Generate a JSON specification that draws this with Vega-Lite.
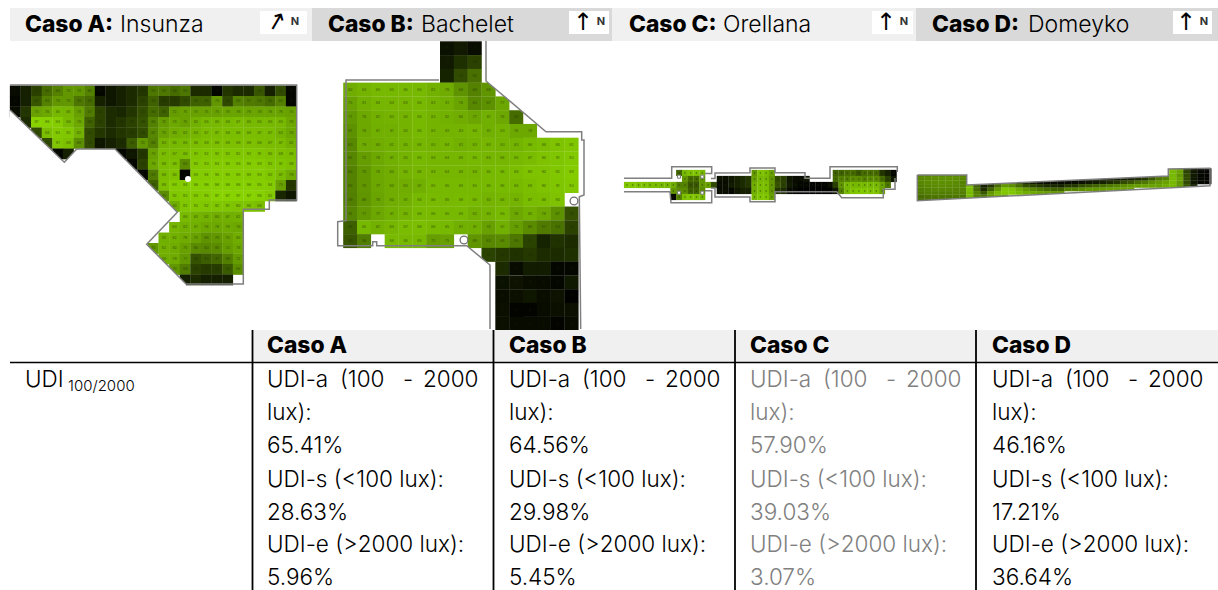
{"$schema":"https://vega.github.io/schema/vega-lite/v6.json","width":1218,"height":590,"padding":0,"autosize":{"type":"none"},"background":"white","config":{"view":{"stroke":null}},
"datasets":{
"A":[{"c":0,"r":0,"u":5},{"c":1,"r":0,"u":15},{"c":2,"r":0,"u":30},{"c":3,"r":0,"u":50},{"c":4,"r":0,"u":60},{"c":5,"r":0,"u":70},{"c":6,"r":0,"u":70},{"c":7,"r":0,"u":60},{"c":8,"r":0,"u":3},{"c":9,"r":0,"u":10},{"c":10,"r":0,"u":15},{"c":11,"r":0,"u":20},{"c":12,"r":0,"u":25},{"c":13,"r":0,"u":55},{"c":14,"r":0,"u":55},{"c":15,"r":0,"u":50},{"c":16,"r":0,"u":55},{"c":17,"r":0,"u":20},{"c":18,"r":0,"u":20},{"c":19,"r":0,"u":3},{"c":20,"r":0,"u":25},{"c":21,"r":0,"u":20},{"c":22,"r":0,"u":20},{"c":23,"r":0,"u":40},{"c":24,"r":0,"u":15},{"c":25,"r":0,"u":35},{"c":26,"r":0,"u":3},
{"c":0,"r":1,"u":3},{"c":1,"r":1,"u":15},{"c":2,"r":1,"u":40},{"c":3,"r":1,"u":60},{"c":4,"r":1,"u":70},{"c":5,"r":1,"u":70},{"c":6,"r":1,"u":55},{"c":7,"r":1,"u":50},{"c":8,"r":1,"u":15},{"c":9,"r":1,"u":10},{"c":10,"r":1,"u":15},{"c":11,"r":1,"u":20},{"c":12,"r":1,"u":30},{"c":13,"r":1,"u":45},{"c":14,"r":1,"u":28},{"c":15,"r":1,"u":27},{"c":16,"r":1,"u":35},{"c":17,"r":1,"u":45},{"c":18,"r":1,"u":45},{"c":19,"r":1,"u":70},{"c":20,"r":1,"u":34},{"c":21,"r":1,"u":60},{"c":22,"r":1,"u":57},{"c":23,"r":1,"u":55},{"c":24,"r":1,"u":50},{"c":25,"r":1,"u":60},{"c":26,"r":1,"u":3},
{"c":0,"r":2,"u":5},{"c":1,"r":2,"u":25},{"c":2,"r":2,"u":75},{"c":3,"r":2,"u":78},{"c":4,"r":2,"u":85},{"c":5,"r":2,"u":84},{"c":6,"r":2,"u":74},{"c":7,"r":2,"u":57},{"c":8,"r":2,"u":30},{"c":9,"r":2,"u":20},{"c":10,"r":2,"u":18},{"c":11,"r":2,"u":25},{"c":12,"r":2,"u":35},{"c":13,"r":2,"u":50},{"c":14,"r":2,"u":45},{"c":15,"r":2,"u":72},{"c":16,"r":2,"u":75},{"c":17,"r":2,"u":75},{"c":18,"r":2,"u":75},{"c":19,"r":2,"u":75},{"c":20,"r":2,"u":76},{"c":21,"r":2,"u":76},{"c":22,"r":2,"u":76},{"c":23,"r":2,"u":76},{"c":24,"r":2,"u":76},{"c":25,"r":2,"u":76},{"c":26,"r":2,"u":75},
{"c":1,"r":3,"u":20},{"c":2,"r":3,"u":97},{"c":3,"r":3,"u":96},{"c":4,"r":3,"u":94},{"c":5,"r":3,"u":86},{"c":6,"r":3,"u":78},{"c":7,"r":3,"u":45},{"c":8,"r":3,"u":30},{"c":9,"r":3,"u":20},{"c":10,"r":3,"u":25},{"c":11,"r":3,"u":30},{"c":12,"r":3,"u":38},{"c":13,"r":3,"u":60},{"c":14,"r":3,"u":72},{"c":15,"r":3,"u":78},{"c":16,"r":3,"u":75},{"c":17,"r":3,"u":82},{"c":18,"r":3,"u":85},{"c":19,"r":3,"u":85},{"c":20,"r":3,"u":86},{"c":21,"r":3,"u":87},{"c":22,"r":3,"u":85},{"c":23,"r":3,"u":85},{"c":24,"r":3,"u":85},{"c":25,"r":3,"u":85},{"c":26,"r":3,"u":78},
{"c":2,"r":4,"u":35},{"c":3,"r":4,"u":88},{"c":4,"r":4,"u":93},{"c":5,"r":4,"u":92},{"c":6,"r":4,"u":82},{"c":7,"r":4,"u":35},{"c":8,"r":4,"u":25},{"c":9,"r":4,"u":20},{"c":10,"r":4,"u":25},{"c":11,"r":4,"u":28},{"c":12,"r":4,"u":35},{"c":13,"r":4,"u":62},{"c":14,"r":4,"u":75},{"c":15,"r":4,"u":80},{"c":16,"r":4,"u":82},{"c":17,"r":4,"u":84},{"c":18,"r":4,"u":87},{"c":19,"r":4,"u":87},{"c":20,"r":4,"u":88},{"c":21,"r":4,"u":88},{"c":22,"r":4,"u":88},{"c":23,"r":4,"u":87},{"c":24,"r":4,"u":87},{"c":25,"r":4,"u":83},{"c":26,"r":4,"u":78},
{"c":3,"r":5,"u":35},{"c":4,"r":5,"u":91},{"c":5,"r":5,"u":89},{"c":6,"r":5,"u":66},{"c":7,"r":5,"u":35},{"c":8,"r":5,"u":10},{"c":9,"r":5,"u":15},{"c":10,"r":5,"u":20},{"c":11,"r":5,"u":43},{"c":12,"r":5,"u":70},{"c":13,"r":5,"u":60},{"c":14,"r":5,"u":83},{"c":15,"r":5,"u":85},{"c":16,"r":5,"u":86},{"c":17,"r":5,"u":88},{"c":18,"r":5,"u":89},{"c":19,"r":5,"u":89},{"c":20,"r":5,"u":89},{"c":21,"r":5,"u":89},{"c":22,"r":5,"u":89},{"c":23,"r":5,"u":88},{"c":24,"r":5,"u":87},{"c":25,"r":5,"u":87},{"c":26,"r":5,"u":82},
{"c":4,"r":6,"u":3},{"c":5,"r":6,"u":15},{"c":10,"r":6,"u":3},{"c":11,"r":6,"u":10},{"c":12,"r":6,"u":25},{"c":13,"r":6,"u":75},{"c":14,"r":6,"u":87},{"c":15,"r":6,"u":87},{"c":16,"r":6,"u":88},{"c":17,"r":6,"u":91},{"c":18,"r":6,"u":92},{"c":19,"r":6,"u":92},{"c":20,"r":6,"u":92},{"c":21,"r":6,"u":92},{"c":22,"r":6,"u":92},{"c":23,"r":6,"u":91},{"c":24,"r":6,"u":90},{"c":25,"r":6,"u":89},{"c":26,"r":6,"u":88},
{"c":11,"r":7,"u":3},{"c":12,"r":7,"u":30},{"c":13,"r":7,"u":78},{"c":14,"r":7,"u":88},{"c":15,"r":7,"u":89},{"c":16,"r":7,"u":65},{"c":17,"r":7,"u":93},{"c":18,"r":7,"u":93},{"c":19,"r":7,"u":94},{"c":20,"r":7,"u":94},{"c":21,"r":7,"u":94},{"c":22,"r":7,"u":94},{"c":23,"r":7,"u":94},{"c":24,"r":7,"u":92},{"c":25,"r":7,"u":91},{"c":26,"r":7,"u":89},
{"c":12,"r":8,"u":3},{"c":13,"r":8,"u":57},{"c":14,"r":8,"u":88},{"c":15,"r":8,"u":90},{"c":16,"r":8,"u":2},{"c":17,"r":8,"u":94},{"c":18,"r":8,"u":94},{"c":19,"r":8,"u":95},{"c":20,"r":8,"u":95},{"c":21,"r":8,"u":95},{"c":22,"r":8,"u":94},{"c":23,"r":8,"u":94},{"c":24,"r":8,"u":92},{"c":25,"r":8,"u":87},{"c":26,"r":8,"u":79},
{"c":13,"r":9,"u":45},{"c":14,"r":9,"u":89},{"c":15,"r":9,"u":94},{"c":16,"r":9,"u":94},{"c":17,"r":9,"u":96},{"c":18,"r":9,"u":96},{"c":19,"r":9,"u":96},{"c":20,"r":9,"u":96},{"c":21,"r":9,"u":96},{"c":22,"r":9,"u":96},{"c":23,"r":9,"u":95},{"c":24,"r":9,"u":94},{"c":25,"r":9,"u":75},{"c":26,"r":9,"u":25},
{"c":14,"r":10,"u":65},{"c":15,"r":10,"u":92},{"c":16,"r":10,"u":93},{"c":17,"r":10,"u":94},{"c":18,"r":10,"u":95},{"c":19,"r":10,"u":97},{"c":20,"r":10,"u":97},{"c":21,"r":10,"u":97},{"c":22,"r":10,"u":97},{"c":23,"r":10,"u":96},{"c":24,"r":10,"u":93},{"c":25,"r":10,"u":18},{"c":26,"r":10,"u":10},
{"c":15,"r":11,"u":80},{"c":16,"r":11,"u":92},{"c":17,"r":11,"u":93},{"c":18,"r":11,"u":92},{"c":19,"r":11,"u":92},{"c":20,"r":11,"u":91},{"c":21,"r":11,"u":90},{"c":22,"r":11,"u":90},{"c":23,"r":11,"u":88},
{"c":16,"r":12,"u":86},{"c":17,"r":12,"u":83},{"c":18,"r":12,"u":82},{"c":19,"r":12,"u":80},{"c":20,"r":12,"u":81},{"c":21,"r":12,"u":82},
{"c":15,"r":13,"u":84},{"c":16,"r":13,"u":82},{"c":17,"r":13,"u":81},{"c":18,"r":13,"u":78},{"c":19,"r":13,"u":78},{"c":20,"r":13,"u":79},{"c":21,"r":13,"u":78},
{"c":14,"r":14,"u":81},{"c":15,"r":14,"u":82},{"c":16,"r":14,"u":79},{"c":17,"r":14,"u":75},{"c":18,"r":14,"u":68},{"c":19,"r":14,"u":70},{"c":20,"r":14,"u":75},{"c":21,"r":14,"u":80},
{"c":13,"r":15,"u":70},{"c":14,"r":15,"u":82},{"c":15,"r":15,"u":80},{"c":16,"r":15,"u":74},{"c":17,"r":15,"u":65},{"c":18,"r":15,"u":63},{"c":19,"r":15,"u":65},{"c":20,"r":15,"u":73},{"c":21,"r":15,"u":78},
{"c":14,"r":16,"u":80},{"c":15,"r":16,"u":79},{"c":16,"r":16,"u":71},{"c":17,"r":16,"u":38},{"c":18,"r":16,"u":43},{"c":19,"r":16,"u":47},{"c":20,"r":16,"u":59},{"c":21,"r":16,"u":72},
{"c":15,"r":17,"u":70},{"c":16,"r":17,"u":58},{"c":17,"r":17,"u":30},{"c":18,"r":17,"u":27},{"c":19,"r":17,"u":28},{"c":20,"r":17,"u":42},{"c":21,"r":17,"u":66},
{"c":16,"r":18,"u":15},{"c":17,"r":18,"u":20},{"c":18,"r":18,"u":15},{"c":19,"r":18,"u":15},{"c":20,"r":18,"u":15}],
"B":[{"c":7,"r":0,"u":8},{"c":8,"r":0,"u":12},{"c":9,"r":0,"u":6},{"c":7,"r":1,"u":12},{"c":8,"r":1,"u":22},{"c":9,"r":1,"u":30},{"c":7,"r":2,"u":16},{"c":8,"r":2,"u":35},{"c":9,"r":2,"u":52},
{"c":0,"r":3,"u":80},{"c":1,"r":3,"u":83},{"c":2,"r":3,"u":85},{"c":3,"r":3,"u":85},{"c":4,"r":3,"u":85},{"c":5,"r":3,"u":85},{"c":6,"r":3,"u":82},{"c":7,"r":3,"u":79},{"c":8,"r":3,"u":68},{"c":9,"r":3,"u":60},{"c":10,"r":3,"u":69},
{"c":0,"r":4,"u":75},{"c":1,"r":4,"u":81},{"c":2,"r":4,"u":84},{"c":3,"r":4,"u":84},{"c":4,"r":4,"u":84},{"c":5,"r":4,"u":85},{"c":6,"r":4,"u":83},{"c":7,"r":4,"u":81},{"c":8,"r":4,"u":76},{"c":9,"r":4,"u":63},{"c":10,"r":4,"u":67},{"c":11,"r":4,"u":77},
{"c":0,"r":5,"u":71},{"c":1,"r":5,"u":78},{"c":2,"r":5,"u":82},{"c":3,"r":5,"u":83},{"c":4,"r":5,"u":83},{"c":5,"r":5,"u":85},{"c":6,"r":5,"u":83},{"c":7,"r":5,"u":82},{"c":8,"r":5,"u":80},{"c":9,"r":5,"u":77},{"c":10,"r":5,"u":81},{"c":11,"r":5,"u":78},{"c":12,"r":5,"u":50},
{"c":0,"r":6,"u":67},{"c":1,"r":6,"u":78},{"c":2,"r":6,"u":81},{"c":3,"r":6,"u":81},{"c":4,"r":6,"u":83},{"c":5,"r":6,"u":85},{"c":6,"r":6,"u":83},{"c":7,"r":6,"u":83},{"c":8,"r":6,"u":83},{"c":9,"r":6,"u":84},{"c":10,"r":6,"u":81},{"c":11,"r":6,"u":83},{"c":12,"r":6,"u":78},{"c":13,"r":6,"u":78},
{"c":0,"r":7,"u":63},{"c":1,"r":7,"u":79},{"c":2,"r":7,"u":80},{"c":3,"r":7,"u":82},{"c":4,"r":7,"u":83},{"c":5,"r":7,"u":84},{"c":6,"r":7,"u":83},{"c":7,"r":7,"u":84},{"c":8,"r":7,"u":82},{"c":9,"r":7,"u":83},{"c":10,"r":7,"u":84},{"c":11,"r":7,"u":83},{"c":12,"r":7,"u":83},{"c":13,"r":7,"u":86},{"c":14,"r":7,"u":88},{"c":15,"r":7,"u":90},{"c":16,"r":7,"u":92},
{"c":0,"r":8,"u":62},{"c":1,"r":8,"u":72},{"c":2,"r":8,"u":78},{"c":3,"r":8,"u":81},{"c":4,"r":8,"u":83},{"c":5,"r":8,"u":85},{"c":6,"r":8,"u":84},{"c":7,"r":8,"u":84},{"c":8,"r":8,"u":84},{"c":9,"r":8,"u":85},{"c":10,"r":8,"u":84},{"c":11,"r":8,"u":84},{"c":12,"r":8,"u":85},{"c":13,"r":8,"u":87},{"c":14,"r":8,"u":90},{"c":15,"r":8,"u":91},{"c":16,"r":8,"u":93},
{"c":0,"r":9,"u":60},{"c":1,"r":9,"u":70},{"c":2,"r":9,"u":78},{"c":3,"r":9,"u":80},{"c":4,"r":9,"u":83},{"c":5,"r":9,"u":84},{"c":6,"r":9,"u":84},{"c":7,"r":9,"u":84},{"c":8,"r":9,"u":84},{"c":9,"r":9,"u":84},{"c":10,"r":9,"u":85},{"c":11,"r":9,"u":86},{"c":12,"r":9,"u":88},{"c":13,"r":9,"u":90},{"c":14,"r":9,"u":90},{"c":15,"r":9,"u":92},{"c":16,"r":9,"u":94},
{"c":0,"r":10,"u":60},{"c":1,"r":10,"u":70},{"c":2,"r":10,"u":77},{"c":3,"r":10,"u":80},{"c":4,"r":10,"u":80},{"c":5,"r":10,"u":81},{"c":6,"r":10,"u":85},{"c":7,"r":10,"u":85},{"c":8,"r":10,"u":85},{"c":9,"r":10,"u":85},{"c":10,"r":10,"u":85},{"c":11,"r":10,"u":86},{"c":12,"r":10,"u":86},{"c":13,"r":10,"u":88},{"c":14,"r":10,"u":90},{"c":15,"r":10,"u":91},{"c":16,"r":10,"u":93},
{"c":0,"r":11,"u":59},{"c":1,"r":11,"u":69},{"c":2,"r":11,"u":76},{"c":3,"r":11,"u":80},{"c":4,"r":11,"u":81},{"c":5,"r":11,"u":85},{"c":6,"r":11,"u":86},{"c":7,"r":11,"u":85},{"c":8,"r":11,"u":86},{"c":9,"r":11,"u":85},{"c":10,"r":11,"u":83},{"c":11,"r":11,"u":84},{"c":12,"r":11,"u":83},{"c":13,"r":11,"u":87},{"c":14,"r":11,"u":88},{"c":15,"r":11,"u":90},
{"c":0,"r":12,"u":61},{"c":1,"r":12,"u":71},{"c":2,"r":12,"u":77},{"c":3,"r":12,"u":81},{"c":4,"r":12,"u":83},{"c":5,"r":12,"u":86},{"c":6,"r":12,"u":86},{"c":7,"r":12,"u":85},{"c":8,"r":12,"u":85},{"c":9,"r":12,"u":82},{"c":10,"r":12,"u":83},{"c":11,"r":12,"u":85},{"c":12,"r":12,"u":78},{"c":13,"r":12,"u":82},{"c":14,"r":12,"u":78},{"c":15,"r":12,"u":67},{"c":16,"r":12,"u":37},
{"c":0,"r":13,"u":44},{"c":1,"r":13,"u":85},{"c":2,"r":13,"u":82},{"c":3,"r":13,"u":84},{"c":4,"r":13,"u":87},{"c":5,"r":13,"u":88},{"c":6,"r":13,"u":86},{"c":7,"r":13,"u":85},{"c":8,"r":13,"u":81},{"c":9,"r":13,"u":81},{"c":10,"r":13,"u":74},{"c":11,"r":13,"u":81},{"c":12,"r":13,"u":73},{"c":13,"r":13,"u":65},{"c":14,"r":13,"u":57},{"c":15,"r":13,"u":53},{"c":16,"r":13,"u":30},
{"c":0,"r":14,"u":40},{"c":1,"r":14,"u":58},{"c":3,"r":14,"u":86},{"c":4,"r":14,"u":85},{"c":5,"r":14,"u":85},{"c":6,"r":14,"u":73},{"c":7,"r":14,"u":75},{"c":9,"r":14,"u":69},{"c":10,"r":14,"u":63},{"c":11,"r":14,"u":64},{"c":12,"r":14,"u":55},{"c":13,"r":14,"u":31},{"c":14,"r":14,"u":16},{"c":15,"r":14,"u":23},{"c":16,"r":14,"u":20},
{"c":10,"r":15,"u":31},{"c":11,"r":15,"u":26},{"c":12,"r":15,"u":23},{"c":13,"r":15,"u":26},{"c":14,"r":15,"u":20},{"c":15,"r":15,"u":20},{"c":16,"r":15,"u":22},
{"c":11,"r":16,"u":20},{"c":12,"r":16,"u":5},{"c":13,"r":16,"u":13},{"c":14,"r":16,"u":13},{"c":15,"r":16,"u":3},{"c":16,"r":16,"u":3},
{"c":11,"r":17,"u":8},{"c":12,"r":17,"u":9},{"c":13,"r":17,"u":6},{"c":14,"r":17,"u":5},{"c":15,"r":17,"u":3},{"c":16,"r":17,"u":11},
{"c":11,"r":18,"u":6},{"c":12,"r":18,"u":7},{"c":13,"r":18,"u":10},{"c":14,"r":18,"u":6},{"c":15,"r":18,"u":9},{"c":16,"r":18,"u":1},
{"c":11,"r":19,"u":7},{"c":12,"r":19,"u":2},{"c":13,"r":19,"u":2},{"c":14,"r":19,"u":5},{"c":15,"r":19,"u":7},{"c":16,"r":19,"u":7},
{"c":11,"r":20,"u":7},{"c":12,"r":20,"u":5},{"c":13,"r":20,"u":5},{"c":14,"r":20,"u":5},{"c":15,"r":20,"u":2},{"c":16,"r":20,"u":5}],
"C":[{"c":9,"r":0,"u":45},{"c":10,"r":0,"u":85},{"c":11,"r":0,"u":90},{"c":12,"r":0,"u":90},{"c":13,"r":0,"u":85},{"c":22,"r":0,"u":70},{"c":23,"r":0,"u":90},{"c":24,"r":0,"u":88},{"c":25,"r":0,"u":75},{"c":36,"r":0,"u":45},{"c":37,"r":0,"u":45},{"c":38,"r":0,"u":50},{"c":39,"r":0,"u":50},{"c":40,"r":0,"u":40},{"c":41,"r":0,"u":50},{"c":42,"r":0,"u":50},{"c":43,"r":0,"u":50},{"c":44,"r":0,"u":25},{"c":45,"r":0,"u":15},{"c":46,"r":0,"u":3},
{"c":10,"r":1,"u":70},{"c":11,"r":1,"u":50},{"c":12,"r":1,"u":50},{"c":13,"r":1,"u":70},{"c":16,"r":1,"u":8},{"c":17,"r":1,"u":6},{"c":18,"r":1,"u":10},{"c":19,"r":1,"u":15},{"c":20,"r":1,"u":20},{"c":21,"r":1,"u":25},{"c":22,"r":1,"u":75},{"c":23,"r":1,"u":85},{"c":24,"r":1,"u":85},{"c":25,"r":1,"u":70},{"c":26,"r":1,"u":35},{"c":27,"r":1,"u":30},{"c":28,"r":1,"u":10},{"c":29,"r":1,"u":5},{"c":30,"r":1,"u":5},{"c":31,"r":1,"u":10},{"c":36,"r":1,"u":50},{"c":37,"r":1,"u":60},{"c":38,"r":1,"u":60},{"c":39,"r":1,"u":65},{"c":40,"r":1,"u":65},{"c":41,"r":1,"u":60},{"c":42,"r":1,"u":65},{"c":43,"r":1,"u":65},{"c":44,"r":1,"u":50},{"c":45,"r":1,"u":30},{"c":46,"r":1,"u":10},
{"c":0,"r":2,"u":92},{"c":1,"r":2,"u":92},{"c":2,"r":2,"u":90},{"c":3,"r":2,"u":90},{"c":4,"r":2,"u":88},{"c":5,"r":2,"u":88},{"c":6,"r":2,"u":85},{"c":7,"r":2,"u":85},{"c":8,"r":2,"u":80},{"c":9,"r":2,"u":60},{"c":10,"r":2,"u":60},{"c":11,"r":2,"u":40},{"c":12,"r":2,"u":40},{"c":13,"r":2,"u":70},{"c":14,"r":2,"u":75},{"c":15,"r":2,"u":35},{"c":16,"r":2,"u":5},{"c":17,"r":2,"u":6},{"c":18,"r":2,"u":12},{"c":19,"r":2,"u":15},{"c":20,"r":2,"u":20},{"c":21,"r":2,"u":25},{"c":22,"r":2,"u":80},{"c":23,"r":2,"u":88},{"c":24,"r":2,"u":88},{"c":25,"r":2,"u":70},{"c":26,"r":2,"u":40},{"c":27,"r":2,"u":30},{"c":28,"r":2,"u":12},{"c":29,"r":2,"u":6},{"c":30,"r":2,"u":3},{"c":31,"r":2,"u":3},{"c":32,"r":2,"u":2},{"c":33,"r":2,"u":2},{"c":34,"r":2,"u":2},{"c":35,"r":2,"u":6},{"c":36,"r":2,"u":30},{"c":37,"r":2,"u":70},{"c":38,"r":2,"u":85},{"c":39,"r":2,"u":85},{"c":40,"r":2,"u":85},{"c":41,"r":2,"u":85},{"c":42,"r":2,"u":85},{"c":43,"r":2,"u":85},{"c":44,"r":2,"u":75},{"c":45,"r":2,"u":55},
{"c":8,"r":3,"u":70},{"c":9,"r":3,"u":65},{"c":10,"r":3,"u":65},{"c":11,"r":3,"u":45},{"c":12,"r":3,"u":45},{"c":13,"r":3,"u":65},{"c":16,"r":3,"u":6},{"c":17,"r":3,"u":6},{"c":18,"r":3,"u":3},{"c":19,"r":3,"u":10},{"c":20,"r":3,"u":15},{"c":21,"r":3,"u":15},{"c":22,"r":3,"u":80},{"c":23,"r":3,"u":88},{"c":24,"r":3,"u":88},{"c":25,"r":3,"u":70},{"c":26,"r":3,"u":25},{"c":27,"r":3,"u":20},{"c":28,"r":3,"u":5},{"c":29,"r":3,"u":3},{"c":30,"r":3,"u":1},{"c":31,"r":3,"u":1},{"c":32,"r":3,"u":1},{"c":33,"r":3,"u":1},{"c":34,"r":3,"u":1},{"c":35,"r":3,"u":1},{"c":36,"r":3,"u":10},{"c":37,"r":3,"u":60},{"c":38,"r":3,"u":85},{"c":39,"r":3,"u":90},{"c":40,"r":3,"u":92},{"c":41,"r":3,"u":92},{"c":42,"r":3,"u":90},{"c":43,"r":3,"u":90},{"c":44,"r":3,"u":75},
{"c":8,"r":4,"u":3},{"c":9,"r":4,"u":60},{"c":10,"r":4,"u":90},{"c":11,"r":4,"u":92},{"c":12,"r":4,"u":90},{"c":13,"r":4,"u":85},{"c":22,"r":4,"u":85},{"c":23,"r":4,"u":92},{"c":24,"r":4,"u":92},{"c":25,"r":4,"u":75}],
"D":[{"c":0,"r":2,"u":62},{"c":1,"r":2,"u":62},{"c":2,"r":2,"u":64},{"c":3,"r":2,"u":64},{"c":4,"r":2,"u":64},{"c":5,"r":2,"u":64},{"c":6,"r":2,"u":62},
{"c":0,"r":3,"u":62},{"c":1,"r":3,"u":64},{"c":2,"r":3,"u":65},{"c":3,"r":3,"u":66},{"c":4,"r":3,"u":66},{"c":5,"r":3,"u":65},{"c":6,"r":3,"u":62},
{"c":0,"r":4,"u":62},{"c":1,"r":4,"u":64},{"c":2,"r":4,"u":66},{"c":3,"r":4,"u":66},{"c":4,"r":4,"u":66},{"c":5,"r":4,"u":64},{"c":6,"r":4,"u":60},
{"c":0,"r":5,"u":60},{"c":1,"r":5,"u":62},{"c":2,"r":5,"u":64},{"c":3,"r":5,"u":65},{"c":4,"r":5,"u":64},{"c":5,"r":5,"u":62},{"c":6,"r":5,"u":60},
{"c":0,"r":6,"u":58},{"c":1,"r":6,"u":60},{"c":2,"r":6,"u":62},{"c":3,"r":6,"u":62},{"c":4,"r":6,"u":62},{"c":5,"r":6,"u":60},{"c":6,"r":6,"u":60},
{"c":0,"r":7,"u":55},{"c":1,"r":7,"u":58},{"c":2,"r":7,"u":58},{"c":3,"r":7,"u":58},{"c":4,"r":7,"u":58},{"c":5,"r":7,"u":58},{"c":6,"r":7,"u":58},
{"c":0,"r":8,"u":50},{"c":1,"r":8,"u":52},{"c":2,"r":8,"u":54},{"c":3,"r":8,"u":54},{"c":4,"r":8,"u":54},{"c":5,"r":8,"u":54},{"c":6,"r":8,"u":54},
{"c":0,"r":9,"u":50},{"c":1,"r":9,"u":50},{"c":2,"r":9,"u":50},{"c":3,"r":9,"u":50},{"c":4,"r":9,"u":50},{"c":5,"r":9,"u":50},
{"c":7,"r":5,"u":88},{"c":7,"r":6,"u":88},{"c":7,"r":7,"u":85},{"c":7,"r":8,"u":85},
{"c":8,"r":4,"u":45},{"c":8,"r":5,"u":45},{"c":8,"r":6,"u":50},{"c":8,"r":7,"u":60},{"c":8,"r":8,"u":60},
{"c":9,"r":4,"u":20},{"c":9,"r":5,"u":15},{"c":9,"r":6,"u":20},{"c":9,"r":7,"u":40},{"c":9,"r":8,"u":55},
{"c":10,"r":4,"u":25},{"c":10,"r":5,"u":25},{"c":10,"r":6,"u":45},{"c":10,"r":7,"u":70},{"c":10,"r":8,"u":70},
{"c":11,"r":4,"u":50},{"c":11,"r":5,"u":50},{"c":11,"r":6,"u":70},{"c":11,"r":7,"u":85},{"c":11,"r":8,"u":80},
{"c":12,"r":4,"u":55},{"c":12,"r":5,"u":70},{"c":12,"r":6,"u":92},{"c":12,"r":7,"u":92},{"c":12,"r":8,"u":75},
{"c":13,"r":4,"u":50},{"c":13,"r":5,"u":65},{"c":13,"r":6,"u":90},{"c":13,"r":7,"u":92},
{"c":14,"r":4,"u":35},{"c":14,"r":5,"u":50},{"c":14,"r":6,"u":80},{"c":14,"r":7,"u":85},
{"c":15,"r":4,"u":20},{"c":15,"r":5,"u":35},{"c":15,"r":6,"u":70},{"c":15,"r":7,"u":80},
{"c":16,"r":4,"u":12},{"c":16,"r":5,"u":30},{"c":16,"r":6,"u":62},{"c":16,"r":7,"u":78},
{"c":17,"r":4,"u":6},{"c":17,"r":5,"u":25},{"c":17,"r":6,"u":55},{"c":17,"r":7,"u":75},
{"c":18,"r":4,"u":5},{"c":18,"r":5,"u":20},{"c":18,"r":6,"u":50},{"c":18,"r":7,"u":72},
{"c":19,"r":4,"u":5},{"c":19,"r":5,"u":18},{"c":19,"r":6,"u":45},{"c":19,"r":7,"u":70},
{"c":20,"r":3,"u":5},{"c":20,"r":4,"u":4},{"c":20,"r":5,"u":15},{"c":20,"r":6,"u":45},{"c":20,"r":7,"u":70},
{"c":21,"r":3,"u":4},{"c":21,"r":4,"u":4},{"c":21,"r":5,"u":25},{"c":21,"r":6,"u":60},
{"c":22,"r":3,"u":8},{"c":22,"r":4,"u":5},{"c":22,"r":5,"u":25},{"c":22,"r":6,"u":60},
{"c":23,"r":3,"u":8},{"c":23,"r":4,"u":8},{"c":23,"r":5,"u":35},{"c":23,"r":6,"u":65},
{"c":24,"r":3,"u":10},{"c":24,"r":4,"u":10},{"c":24,"r":5,"u":40},{"c":24,"r":6,"u":70},
{"c":25,"r":3,"u":10},{"c":25,"r":4,"u":12},{"c":25,"r":5,"u":45},{"c":25,"r":6,"u":70},
{"c":26,"r":3,"u":10},{"c":26,"r":4,"u":15},{"c":26,"r":5,"u":50},{"c":26,"r":6,"u":72},
{"c":27,"r":3,"u":12},{"c":27,"r":4,"u":20},{"c":27,"r":5,"u":55},{"c":27,"r":6,"u":75},
{"c":28,"r":3,"u":12},{"c":28,"r":4,"u":25},{"c":28,"r":5,"u":60},{"c":28,"r":6,"u":75},
{"c":29,"r":3,"u":15},{"c":29,"r":4,"u":35},{"c":29,"r":5,"u":65},{"c":29,"r":6,"u":75},
{"c":30,"r":3,"u":15},{"c":30,"r":4,"u":40},{"c":30,"r":5,"u":70},{"c":30,"r":6,"u":75},
{"c":31,"r":3,"u":20},{"c":31,"r":4,"u":50},{"c":31,"r":5,"u":72},
{"c":32,"r":2,"u":20},{"c":32,"r":3,"u":25},{"c":32,"r":4,"u":55},{"c":32,"r":5,"u":75},
{"c":33,"r":2,"u":35},{"c":33,"r":3,"u":40},{"c":33,"r":4,"u":65},{"c":33,"r":5,"u":75},
{"c":34,"r":2,"u":40},{"c":34,"r":3,"u":55},{"c":34,"r":4,"u":70},{"c":34,"r":5,"u":75},
{"c":35,"r":2,"u":45},{"c":35,"r":3,"u":60},{"c":35,"r":4,"u":75},{"c":35,"r":5,"u":80},
{"c":36,"r":0,"u":85},{"c":36,"r":1,"u":85},{"c":36,"r":2,"u":85},{"c":36,"r":3,"u":85},{"c":36,"r":4,"u":85},{"c":36,"r":5,"u":85},
{"c":37,"r":0,"u":80},{"c":37,"r":1,"u":75},{"c":37,"r":2,"u":70},{"c":37,"r":3,"u":75},{"c":37,"r":4,"u":70},{"c":37,"r":5,"u":70},
{"c":38,"r":0,"u":25},{"c":38,"r":1,"u":30},{"c":38,"r":2,"u":35},{"c":38,"r":3,"u":35},{"c":38,"r":4,"u":35},{"c":38,"r":5,"u":40},
{"c":39,"r":0,"u":8},{"c":39,"r":1,"u":10},{"c":39,"r":2,"u":12},{"c":39,"r":3,"u":10},{"c":39,"r":4,"u":10},{"c":39,"r":5,"u":15},
{"c":40,"r":0,"u":3},{"c":40,"r":1,"u":3},{"c":40,"r":2,"u":3},{"c":40,"r":3,"u":3},{"c":40,"r":4,"u":3},
{"c":41,"r":0,"u":2},{"c":41,"r":1,"u":2},{"c":41,"r":2,"u":2},{"c":41,"r":3,"u":2},{"c":41,"r":4,"u":2}],
"masks":[{"m":"a1","x":10,"y":110,"y2":300},{"m":"a1","x":64.3,"y":162.3,"y2":300},{"m":"a1","x":76.7,"y":149,"y2":300},{"m":"a1","x":115,"y":149,"y2":300},{"m":"a1","x":146.7,"y":181.2,"y2":300},
{"m":"a2","x":146.7,"y":181.2,"y2":244.3},{"m":"a2","x":177.3,"y":212.3,"y2":212.3},
{"m":"a3","x":146.7,"y":244.3,"y2":300},{"m":"a3","x":186,"y":284,"y2":300},
{"m":"b1","x":486,"y":81,"y2":42},{"m":"b1","x":546,"y":131.7,"y2":42},
{"m":"b2","x":466.7,"y":245.7,"y2":332},{"m":"b2","x":490,"y":265,"y2":332},
{"m":"d1","x":916,"y":175,"y2":160},{"m":"d1","x":966.7,"y":175,"y2":160},
{"m":"d2","x":966.7,"y":185,"y2":160},{"m":"d2","x":1168.3,"y":176,"y2":160},
{"m":"d3","x":1168.3,"y":169,"y2":160},{"m":"d3","x":1213,"y":168.3,"y2":160},
{"m":"d4","x":916,"y":200.7,"y2":215},{"m":"d4","x":1213,"y":185.5,"y2":215}],
"outlines":[{"id":"a","i":1,"x":10,"y":110},{"id":"a","i":2,"x":64.3,"y":162.3},{"id":"a","i":3,"x":76.7,"y":149},{"id":"a","i":4,"x":115,"y":149},{"id":"a","i":5,"x":177.3,"y":212.3},{"id":"a","i":6,"x":146.7,"y":244.3},{"id":"a","i":7,"x":186,"y":284},{"id":"a","i":8,"x":243.3,"y":284},{"id":"a","i":9,"x":243.3,"y":209.3},{"id":"a","i":10,"x":269.3,"y":209.3},{"id":"a","i":11,"x":269.3,"y":200},{"id":"a","i":12,"x":296.7,"y":200},{"id":"a","i":13,"x":296.7,"y":85},{"id":"a","i":14,"x":10,"y":85},
{"id":"b1","i":1,"x":439,"y":80},{"id":"b1","i":2,"x":346,"y":80},{"id":"b1","i":3,"x":346,"y":220.7},{"id":"b1","i":4,"x":337.7,"y":221.7},{"id":"b1","i":5,"x":337.7,"y":245.7},{"id":"b1","i":6,"x":372.7,"y":245.7},{"id":"b1","i":7,"x":372.7,"y":241.7},{"id":"b1","i":8,"x":376.7,"y":241.7},{"id":"b1","i":9,"x":376.7,"y":245.7},{"id":"b1","i":10,"x":466.7,"y":245.7},{"id":"b1","i":11,"x":490,"y":265},{"id":"b1","i":12,"x":490,"y":329},
{"id":"b2","i":1,"x":486,"y":41},{"id":"b2","i":2,"x":486,"y":81},{"id":"b2","i":3,"x":546,"y":131.7},{"id":"b2","i":4,"x":581.7,"y":131.7},{"id":"b2","i":5,"x":581.7,"y":140},{"id":"b2","i":6,"x":584,"y":140},{"id":"b2","i":7,"x":584,"y":195},{"id":"b2","i":8,"x":579.3,"y":196.7},{"id":"b2","i":9,"x":580.7,"y":329},
{"id":"c1","i":1,"x":624,"y":178.3},{"id":"c1","i":2,"x":671.7,"y":178.3},{"id":"c1","i":3,"x":671.7,"y":166.7},{"id":"c1","i":4,"x":711.7,"y":166.7},{"id":"c1","i":5,"x":711.7,"y":173.5},{"id":"c1","i":6,"x":705,"y":173.5},
{"id":"c2","i":1,"x":711,"y":178.5},{"id":"c2","i":2,"x":715,"y":178.5},{"id":"c2","i":3,"x":715,"y":173},{"id":"c2","i":4,"x":750,"y":172.7},{"id":"c2","i":5,"x":750,"y":168},{"id":"c2","i":6,"x":775,"y":168},{"id":"c2","i":7,"x":775,"y":172.7},{"id":"c2","i":8,"x":805,"y":172.7},{"id":"c2","i":9,"x":805,"y":178.3},{"id":"c2","i":10,"x":830,"y":178.3},{"id":"c2","i":11,"x":830,"y":166.7},{"id":"c2","i":12,"x":897.3,"y":166.7},{"id":"c2","i":13,"x":897.3,"y":172},
{"id":"c3","i":1,"x":624,"y":191.7},{"id":"c3","i":2,"x":670,"y":191.7},{"id":"c3","i":3,"x":671,"y":202.7},{"id":"c3","i":4,"x":711.7,"y":202.7},{"id":"c3","i":5,"x":711.7,"y":190.7},{"id":"c3","i":6,"x":705,"y":190.7},
{"id":"c4","i":1,"x":711,"y":188},{"id":"c4","i":2,"x":715,"y":188},{"id":"c4","i":3,"x":715,"y":197},{"id":"c4","i":4,"x":750,"y":197},{"id":"c4","i":5,"x":750,"y":201.7},{"id":"c4","i":6,"x":775,"y":201.7},{"id":"c4","i":7,"x":775,"y":191.7},{"id":"c4","i":8,"x":836.7,"y":191.7},{"id":"c4","i":9,"x":841.7,"y":197.7},{"id":"c4","i":10,"x":883.3,"y":197.7},{"id":"c4","i":11,"x":883.3,"y":189.3},{"id":"c4","i":12,"x":895,"y":189.3},{"id":"c4","i":13,"x":895,"y":178},
{"id":"d","i":1,"x":917.3,"y":175},{"id":"d","i":2,"x":966.7,"y":175},{"id":"d","i":3,"x":966.7,"y":185},{"id":"d","i":4,"x":1168.3,"y":176},{"id":"d","i":5,"x":1168.3,"y":169},{"id":"d","i":6,"x":1210,"y":168.3},{"id":"d","i":7,"x":1210,"y":185.7},{"id":"d","i":8,"x":917.3,"y":200.7},{"id":"d","i":9,"x":917.3,"y":175}],
"holes":[{"x":574,"y":201,"k":"big"},{"x":464,"y":240,"k":"big"},{"x":188,"y":179,"k":"small"}],
"notches":[{"x":679,"y":176.7},{"x":679,"y":192.7},{"x":702.3,"y":176.7},{"x":702.3,"y":192.7}],
"bands":[{"x":10,"x2":312,"y":8,"y2":41,"t":"light"},{"x":312,"x2":612,"y":8,"y2":41,"t":"mid"},{"x":612,"x2":916,"y":8,"y2":41,"t":"light"},{"x":916,"x2":1218,"y":8,"y2":41,"t":"mid"},{"x":252,"x2":1218,"y":330,"y2":362,"t":"light"},{"x":260,"x2":307,"y":11,"y2":34,"t":"white"},{"x":569,"x2":609,"y":11,"y2":34,"t":"white"},{"x":872,"x2":913,"y":11,"y2":34,"t":"white"},{"x":1173,"x2":1212,"y":11,"y2":34,"t":"white"}],
"vrules":[{"x":252.5,"y":330,"y2":590},{"x":493.5,"y":330,"y2":590},{"x":735,"y":330,"y2":590},{"x":976,"y":330,"y2":590}],
"hrules":[{"x":10,"x2":1218,"y":362.5}],
"bold":[{"x":25,"y":32,"t":"Caso A:"},{"x":328,"y":32,"t":"Caso B:"},{"x":629,"y":32,"t":"Caso C:"},{"x":932,"y":32,"t":"Caso D:"},{"x":267,"y":353,"t":"Caso A"},{"x":509,"y":353,"t":"Caso B"},{"x":750,"y":353,"t":"Caso C"},{"x":992,"y":353,"t":"Caso D"}],
"titles":[{"x":120,"y":32,"t":"Insunza"},{"x":421,"y":32,"t":"Bachelet"},{"x":723,"y":32,"t":"Orellana"},{"x":1028,"y":32,"t":"Domeyko"}],
"arrowA":[{"x":276,"y":23,"t":"↑"}],
"arrows":[{"x":583,"y":23,"t":"↑"},{"x":886,"y":23,"t":"↑"},{"x":1186,"y":23,"t":"↑"}],
"norths":[{"x":295,"y":22,"t":"N"},{"x":601,"y":22,"t":"N"},{"x":904,"y":22,"t":"N"},{"x":1204,"y":22,"t":"N"}],
"sub":[{"x":68,"y":391,"t":"100/2000"}],
"body":[{"x":25,"y":387,"t":"UDI"},
{"x":267,"y":387,"t":"UDI-a"},{"x":340,"y":387,"t":"(100"},{"x":403,"y":387,"t":"-"},{"x":423,"y":387,"t":"2000"},{"x":267,"y":420,"t":"lux):"},{"x":267,"y":453,"t":"65.41%"},{"x":267,"y":487,"t":"UDI-s (<100 lux):"},{"x":267,"y":520,"t":"28.63%"},{"x":267,"y":552,"t":"UDI-e (>2000 lux):"},{"x":267,"y":585,"t":"5.96%"},
{"x":509,"y":387,"t":"UDI-a"},{"x":582,"y":387,"t":"(100"},{"x":645,"y":387,"t":"-"},{"x":665,"y":387,"t":"2000"},{"x":509,"y":420,"t":"lux):"},{"x":509,"y":453,"t":"64.56%"},{"x":509,"y":487,"t":"UDI-s (<100 lux):"},{"x":509,"y":520,"t":"29.98%"},{"x":509,"y":552,"t":"UDI-e (>2000 lux):"},{"x":509,"y":585,"t":"5.45%"},
{"x":992,"y":387,"t":"UDI-a"},{"x":1065,"y":387,"t":"(100"},{"x":1128,"y":387,"t":"-"},{"x":1148,"y":387,"t":"2000"},{"x":992,"y":420,"t":"lux):"},{"x":992,"y":453,"t":"46.16%"},{"x":992,"y":487,"t":"UDI-s (<100 lux):"},{"x":992,"y":520,"t":"17.21%"},{"x":992,"y":552,"t":"UDI-e (>2000 lux):"},{"x":992,"y":585,"t":"36.64%"}],
"bodyC":[{"x":750,"y":387,"t":"UDI-a"},{"x":823,"y":387,"t":"(100"},{"x":886,"y":387,"t":"-"},{"x":906,"y":387,"t":"2000"},{"x":750,"y":420,"t":"lux):"},{"x":750,"y":453,"t":"57.90%"},{"x":750,"y":487,"t":"UDI-s (<100 lux):"},{"x":750,"y":520,"t":"39.03%"},{"x":750,"y":552,"t":"UDI-e (>2000 lux):"},{"x":750,"y":585,"t":"3.07%"}]
},
"resolve":{"scale":{"x":"independent","y":"independent"}},
"layer":[
{"data":{"name":"A"},"encoding":{"x":{"field":"c","type":"quantitative","axis":null,"scale":{"domain":[-1.442,113.28],"nice":false,"zero":false}},"y":{"field":"r","type":"quantitative","axis":null,"scale":{"domain":[-8.659,47.53],"nice":false,"zero":false,"reverse":true}}},
"layer":[{"mark":{"type":"rect","width":10.9,"height":10.8},"encoding":{"color":{"field":"u","type":"quantitative","legend":null,"scale":{"domain":[0,100],"range":["#000000","#8cd800"],"interpolate":"rgb"}}}},
{"mark":{"type":"text","fontSize":3.5,"font":"Inter","fill":"#1a2a00","opacity":0.65},"encoding":{"text":{"field":"u"}}}]},
{"data":{"name":"B"},"encoding":{"x":{"field":"c","type":"quantitative","axis":null,"scale":{"domain":[-25.325,62.745],"nice":false,"zero":false}},"y":{"field":"r","type":"quantitative","axis":null,"scale":{"domain":[-3.509,39.34],"nice":false,"zero":false,"reverse":true}}},
"layer":[{"mark":{"type":"rect","width":14.1,"height":14},"encoding":{"color":{"field":"u","type":"quantitative","legend":null,"scale":{"domain":[0,100],"range":["#000000","#8cd800"],"interpolate":"rgb"}}}},
{"mark":{"type":"text","fontSize":3.5,"font":"Inter","fill":"#1a2a00","opacity":0.65},"encoding":{"text":{"field":"u"}}}]},
{"data":{"name":"C"},"encoding":{"x":{"field":"c","type":"quantitative","axis":null,"scale":{"domain":[-108.09,101.91],"nice":false,"zero":false}},"y":{"field":"r","type":"quantitative","axis":null,"scale":{"domain":[-28.83,69.5],"nice":false,"zero":false,"reverse":true}}},
"layer":[{"mark":{"type":"rect","width":6,"height":6.2},"encoding":{"color":{"field":"u","type":"quantitative","legend":null,"scale":{"domain":[0,100],"range":["#000000","#8cd800"],"interpolate":"rgb"}}}},
{"mark":{"type":"circle","size":2,"color":"#1a2a00","opacity":0.6}}]},
{"data":{"name":"D"},"encoding":{"x":{"field":"c","type":"quantitative","axis":null,"scale":{"domain":[-131.55,42.45],"nice":false,"zero":false}},"y":{"field":"r","type":"quantitative","axis":null,"scale":{"domain":[-48.12,120.45],"nice":false,"zero":false,"reverse":true}}},
"layer":[{"mark":{"type":"rect","width":7.2,"height":3.7},"encoding":{"color":{"field":"u","type":"quantitative","legend":null,"scale":{"domain":[0,100],"range":["#000000","#8cd800"],"interpolate":"rgb"}}}}]},
{"encoding":{"x":{"field":"x","type":"quantitative","axis":null,"scale":{"domain":[0,1218],"nice":false,"zero":false}},"y":{"field":"y","type":"quantitative","axis":null,"scale":{"domain":[0,590],"nice":false,"zero":false,"reverse":true}}},
"layer":[
{"data":{"name":"masks"},"mark":{"type":"area","color":"white","opacity":1},"encoding":{"y2":{"field":"y2"},"detail":{"field":"m"}}},
{"data":{"name":"outlines"},"mark":{"type":"line","stroke":"#7f7f7f","strokeWidth":1.5,"strokeJoin":"miter"},"encoding":{"detail":{"field":"id"},"order":{"field":"i","type":"quantitative"}}},
{"data":{"name":"notches"},"mark":{"type":"point","shape":"square","size":9,"filled":true,"fill":"white","stroke":"#7f7f7f","strokeWidth":1,"opacity":1}},
{"data":{"name":"holes"},"transform":[{"filter":"datum.k=='big'"}],"mark":{"type":"point","shape":"circle","size":60,"filled":true,"fill":"white","stroke":"#6e6e6e","strokeWidth":1.3,"opacity":1}},
{"data":{"name":"holes"},"transform":[{"filter":"datum.k=='small'"}],"mark":{"type":"point","shape":"circle","size":16,"filled":true,"fill":"white","stroke":"white","opacity":1}},
{"data":{"name":"bands"},"mark":{"type":"rect"},"encoding":{"x2":{"field":"x2"},"y2":{"field":"y2"},"color":{"field":"t","type":"nominal","legend":null,"scale":{"domain":["light","mid","white"],"range":["#f0f0f0","#d9d9d9","#ffffff"]}}}},
{"data":{"name":"vrules"},"mark":{"type":"rule","stroke":"#000000","strokeWidth":1.8},"encoding":{"y2":{"field":"y2"}}},
{"data":{"name":"hrules"},"mark":{"type":"rule","stroke":"#000000","strokeWidth":1.5},"encoding":{"x2":{"field":"x2"}}},
{"data":{"name":"bold"},"mark":{"type":"text","font":"Inter","fontSize":22.8,"fontWeight":800,"align":"left","baseline":"alphabetic","fill":"#000000"},"encoding":{"text":{"field":"t"}}},
{"data":{"name":"titles"},"mark":{"type":"text","font":"Inter","fontSize":23,"fontWeight":300,"align":"left","baseline":"alphabetic","fill":"#000000"},"encoding":{"text":{"field":"t"}}},
{"data":{"name":"arrowA"},"mark":{"type":"text","font":"DejaVu Sans","fontSize":24,"angle":30,"align":"center","baseline":"middle","fill":"#000000"},"encoding":{"text":{"field":"t"}}},
{"data":{"name":"arrows"},"mark":{"type":"text","font":"DejaVu Sans","fontSize":24,"align":"center","baseline":"middle","fill":"#000000"},"encoding":{"text":{"field":"t"}}},
{"data":{"name":"norths"},"mark":{"type":"text","font":"Inter","fontSize":11,"fontWeight":700,"align":"center","baseline":"middle","fill":"#333333"},"encoding":{"text":{"field":"t"}}},
{"data":{"name":"sub"},"mark":{"type":"text","font":"Inter","fontSize":15,"fontWeight":300,"align":"left","baseline":"alphabetic","fill":"#000000"},"encoding":{"text":{"field":"t"}}},
{"data":{"name":"body"},"mark":{"type":"text","font":"Inter","fontSize":22.5,"fontWeight":300,"align":"left","baseline":"alphabetic","fill":"#000000"},"encoding":{"text":{"field":"t"}}},
{"data":{"name":"bodyC"},"mark":{"type":"text","font":"Inter","fontSize":22.5,"fontWeight":300,"align":"left","baseline":"alphabetic","fill":"#808080"},"encoding":{"text":{"field":"t"}}}
]}
]}
